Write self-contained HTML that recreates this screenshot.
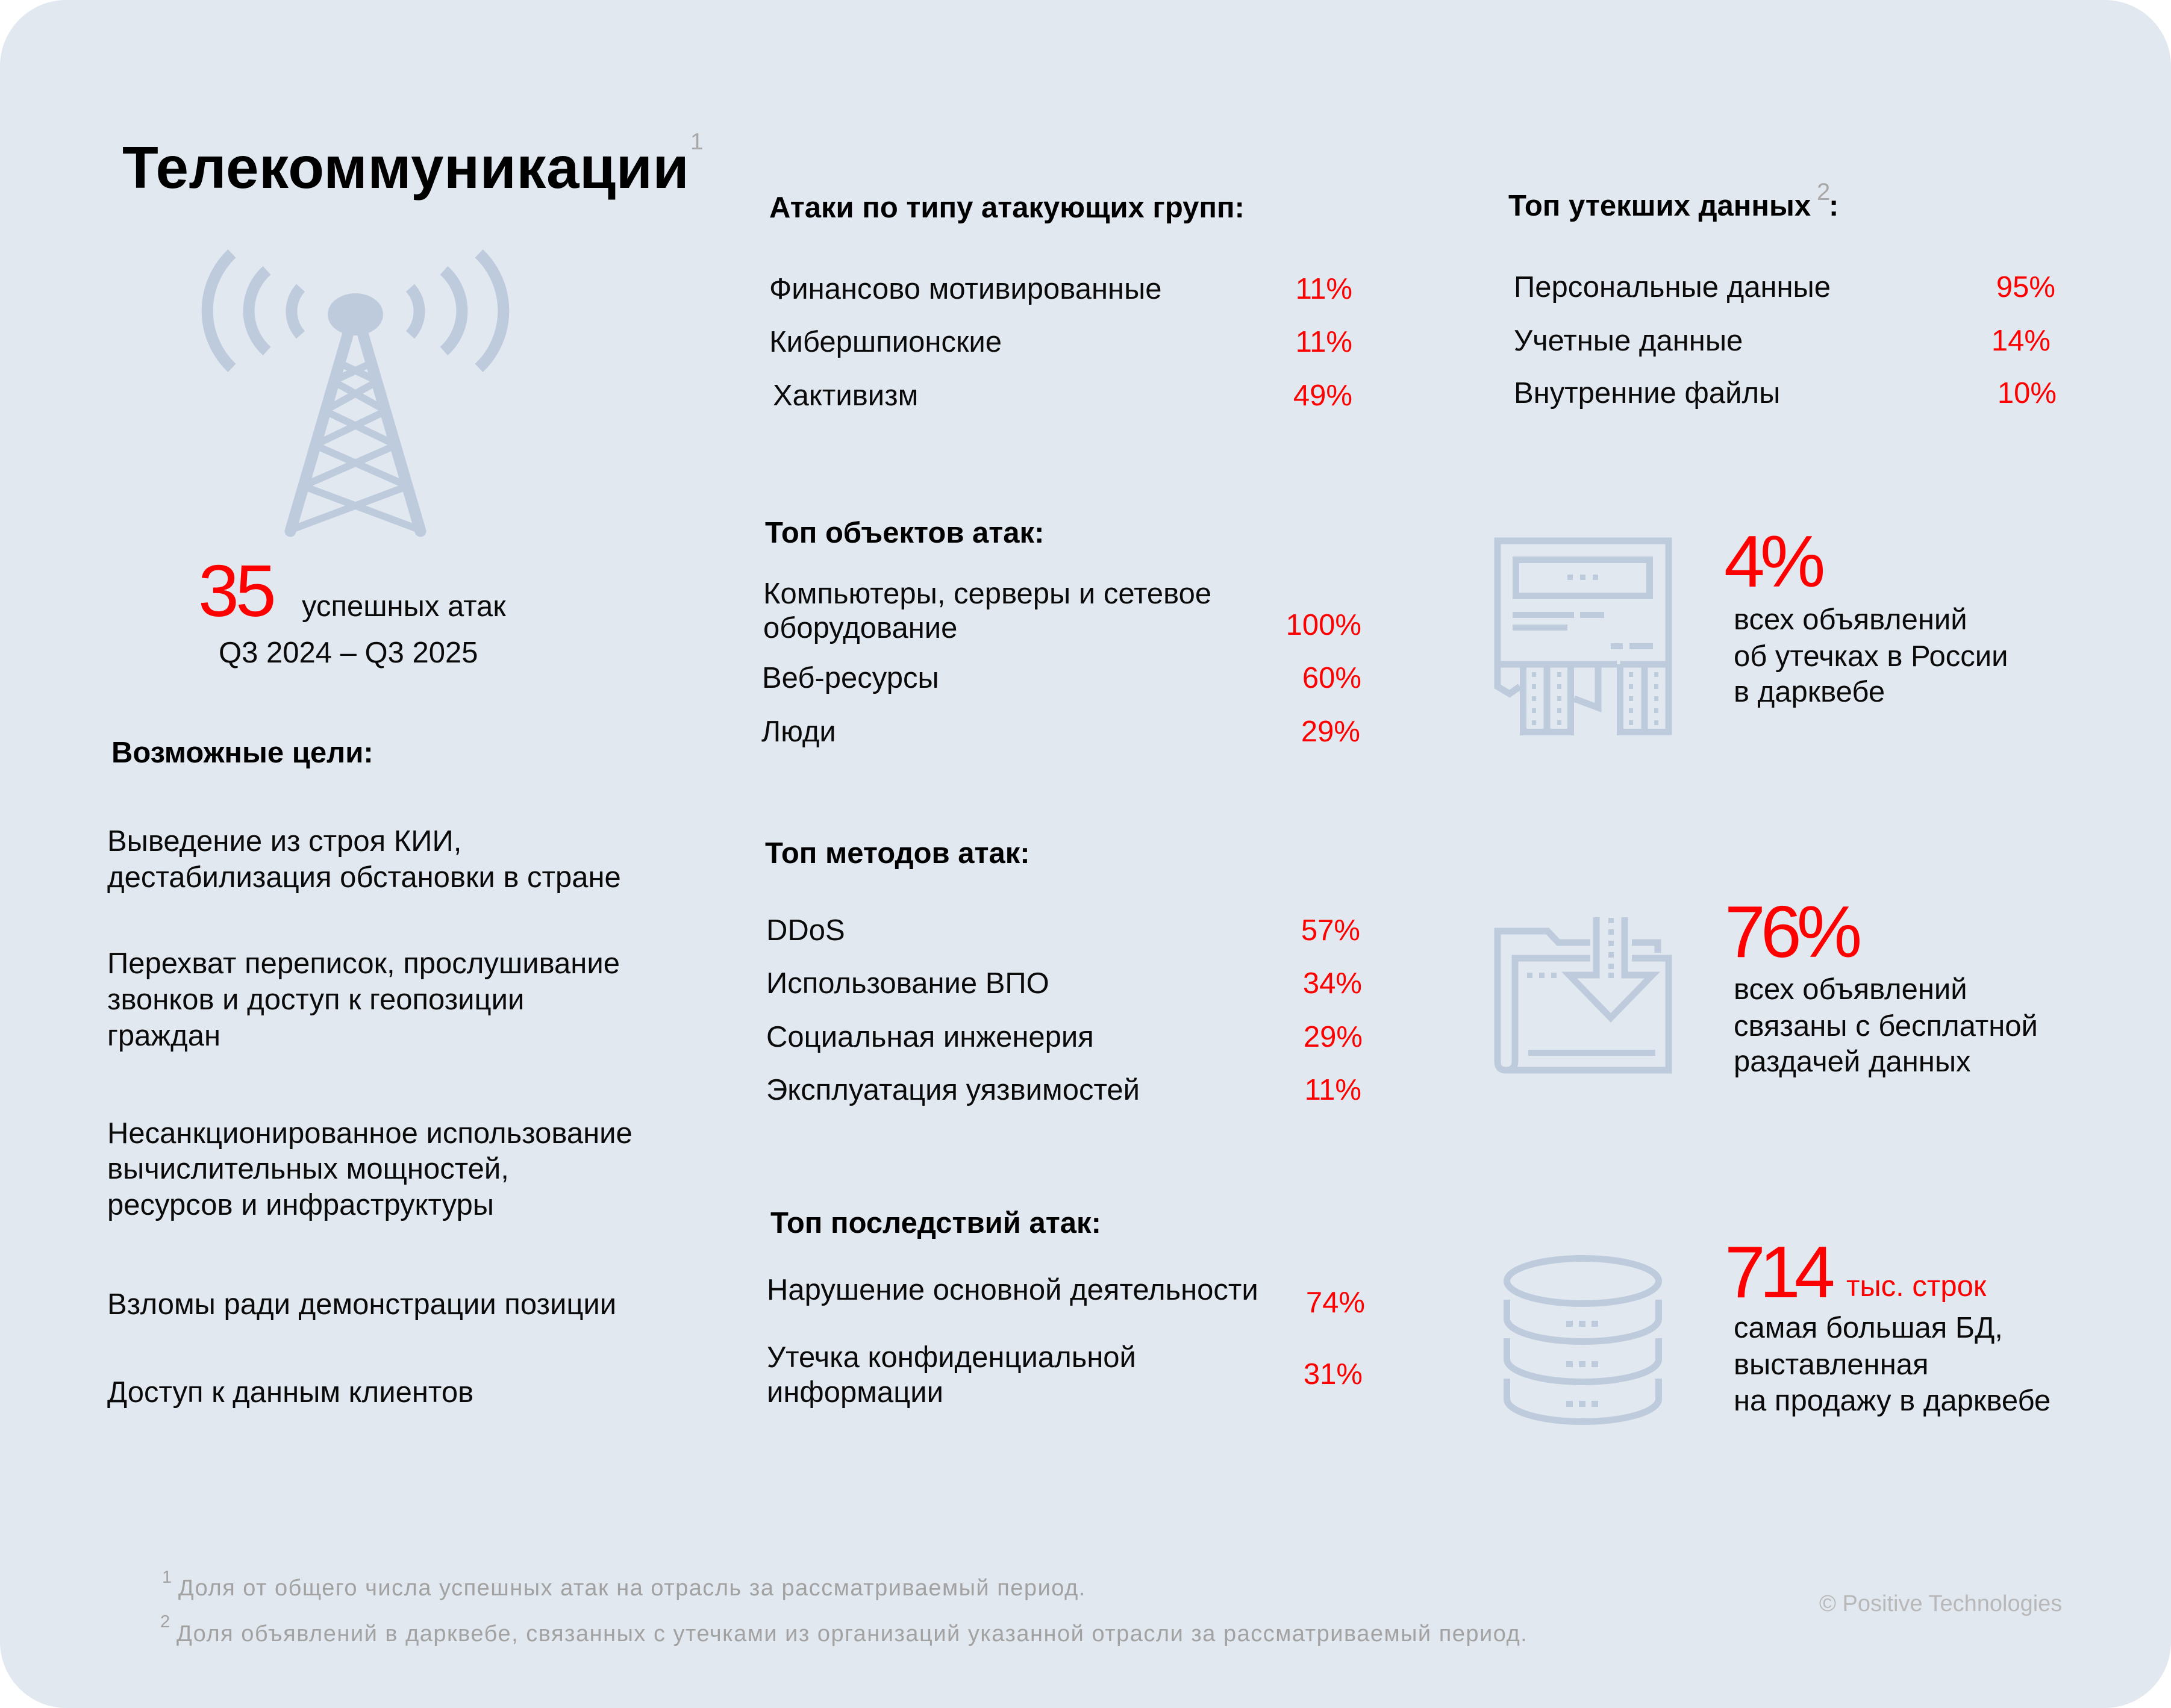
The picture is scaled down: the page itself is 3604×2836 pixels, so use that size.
<!DOCTYPE html>
<html lang="ru">
<head>
<meta charset="utf-8">
<title>Телекоммуникации</title>
<style>
  html, body { margin: 0; padding: 0; background: #ffffff; }
  body { width: 3604px; height: 2836px; overflow: hidden; }
  svg { display: block; }
  text { font-family: "Liberation Sans", Arial, sans-serif; }
  .b { font-size: 49px; fill: #0a0a0a; }
  .h { font-size: 49px; font-weight: bold; fill: #000; }
  .r { font-size: 49px; fill: #ff0000; }
  .big { font-size: 122px; fill: #ff0000; }
  .fn { font-size: 38px; fill: #a2a2a2; letter-spacing: 1.5px; }
  .sup { fill: #a8a8a8; }
</style>
</head>
<body>
<svg width="3604" height="2836" viewBox="0 0 3604 2836" xmlns="http://www.w3.org/2000/svg">
  <rect x="0" y="0" width="3604" height="2836" rx="110" ry="110" fill="#e2e8f0"/>

  <!-- ============ TOWER ICON ============ -->
  <g stroke="#bdcbdd" fill="none">
    <g stroke-width="19" stroke-linecap="butt">
      <path d="M 499 478 A 58 58 0 0 0 499 556"/>
      <path d="M 443 449 A 90 90 0 0 0 443 583"/>
      <path d="M 385 421 A 131 131 0 0 0 385 611"/>
      <path d="M 681 478 A 58 58 0 0 1 681 556"/>
      <path d="M 737 449 A 90 90 0 0 1 737 583"/>
      <path d="M 795 421 A 131 131 0 0 1 795 611"/>
    </g>
    <g stroke-width="19" stroke-linecap="round">
      <line x1="577" y1="557" x2="482" y2="882"/>
      <line x1="603" y1="557" x2="698" y2="882"/>
    </g>
    <g stroke-width="12" stroke-linecap="round">
      <line x1="482" y1="880" x2="677" y2="807"/>
      <line x1="698" y1="880" x2="503" y2="807"/>
      <line x1="503" y1="807" x2="657.6" y2="739"/>
      <line x1="677" y1="807" x2="522.4" y2="739"/>
      <line x1="522.4" y1="739" x2="641.3" y2="682"/>
      <line x1="657.6" y1="739" x2="538.7" y2="682"/>
      <line x1="538.7" y1="682" x2="627.3" y2="633"/>
      <line x1="641.3" y1="682" x2="552.7" y2="633"/>
      <line x1="552.7" y1="633" x2="618.4" y2="602"/>
      <line x1="627.3" y1="633" x2="561.6" y2="602"/>
    </g>
  </g>
  <ellipse cx="590" cy="522" rx="46" ry="35" fill="#bdcbdd"/>

  <!-- ============ SHREDDER ICON ============ -->
  <g stroke="#bdcbdd" stroke-width="11" fill="none" stroke-linejoin="miter">
    <polyline points="2486,1103 2486,898 2770,898 2770,1221"/>
    <rect x="2516.5" y="929.5" width="222" height="60"/>
    <line x1="2481" y1="1103" x2="2523" y2="1103"/>
    <line x1="2613" y1="1103" x2="2684" y2="1103"/>
    <polyline points="2486,1103 2486,1140 2506,1152 2523,1140"/>
    <rect x="2528.5" y="1103" width="79" height="112.5"/>
    <line x1="2568" y1="1103" x2="2568" y2="1215"/>
    <polyline points="2613,1103 2653,1103 2653,1175 2613,1160"/>
    <polyline points="2689.5,1103 2689.5,1215.5 2770,1215.5"/>
    <line x1="2730" y1="1103" x2="2730" y2="1215"/>
    <line x1="2689.5" y1="1103" x2="2770" y2="1103"/>
  </g>
  <g fill="#bdcbdd">
    <rect x="2602" y="954" width="9" height="9"/>
    <rect x="2623" y="954" width="9" height="9"/>
    <rect x="2644" y="954" width="9" height="9"/>
    <rect x="2511" y="1016" width="102" height="10"/>
    <rect x="2623" y="1016" width="40" height="10"/>
    <rect x="2511" y="1037" width="91" height="10"/>
    <rect x="2674" y="1068" width="20" height="10"/>
    <rect x="2705" y="1068" width="39" height="10"/>
    <rect x="2543" y="1116" width="7" height="8"/><rect x="2585" y="1116" width="7" height="8"/>
    <rect x="2543" y="1136" width="7" height="8"/><rect x="2585" y="1136" width="7" height="8"/>
    <rect x="2543" y="1156" width="7" height="8"/><rect x="2585" y="1156" width="7" height="8"/>
    <rect x="2543" y="1176" width="7" height="8"/><rect x="2585" y="1176" width="7" height="8"/>
    <rect x="2543" y="1196" width="7" height="8"/><rect x="2585" y="1196" width="7" height="8"/>
    <rect x="2704" y="1116" width="7" height="8"/><rect x="2746" y="1116" width="7" height="8"/>
    <rect x="2704" y="1136" width="7" height="8"/><rect x="2746" y="1136" width="7" height="8"/>
    <rect x="2704" y="1156" width="7" height="8"/><rect x="2746" y="1156" width="7" height="8"/>
    <rect x="2704" y="1176" width="7" height="8"/><rect x="2746" y="1176" width="7" height="8"/>
    <rect x="2704" y="1196" width="7" height="8"/><rect x="2746" y="1196" width="7" height="8"/>
  </g>

  <!-- ============ FOLDER ICON ============ -->
  <g stroke="#bdcbdd" stroke-width="11" fill="none" stroke-linejoin="miter">
    <path d="M 2500 1777 Q 2486 1777 2486 1763 L 2486 1546 L 2569 1546 L 2587 1565 L 2640 1565"/>
    <polyline points="2709,1565 2752,1565 2752,1582"/>
    <polyline points="2640,1591 2515,1591 2515,1762"/>
    <path d="M 2515 1762 Q 2515 1777 2500 1777 L 2770 1777 L 2770 1591 L 2709 1591"/>
    <polyline points="2650,1523 2650,1619 2605,1619 2674,1690 2743,1619 2697,1619 2697,1523"/>
  </g>
  <g fill="#bdcbdd">
    <rect x="2670" y="1524" width="9" height="9"/>
    <rect x="2670" y="1543" width="9" height="9"/>
    <rect x="2670" y="1562" width="9" height="9"/>
    <rect x="2670" y="1581" width="9" height="9"/>
    <rect x="2670" y="1600" width="9" height="9"/>
    <rect x="2670" y="1615" width="9" height="9"/>
    <rect x="2535" y="1615" width="9" height="9"/>
    <rect x="2555" y="1615" width="9" height="9"/>
    <rect x="2575" y="1615" width="9" height="9"/>
    <rect x="2537" y="1743" width="211" height="10"/>
  </g>

  <!-- ============ DATABASE ICON ============ -->
  <g stroke="#bdcbdd" stroke-width="11" fill="none">
    <ellipse cx="2627.5" cy="2127" rx="126" ry="37.5"/>
    <path d="M 2501.5 2158 L 2501.5 2190 A 126 37.5 0 0 0 2753.5 2190 L 2753.5 2158"/>
    <path d="M 2501.5 2222 L 2501.5 2257 A 126 37.5 0 0 0 2753.5 2257 L 2753.5 2222"/>
    <path d="M 2501.5 2289 L 2501.5 2323 A 126 37.5 0 0 0 2753.5 2323 L 2753.5 2289"/>
  </g>
  <g fill="#bdcbdd">
    <rect x="2600" y="2193" width="11" height="10"/><rect x="2621" y="2193" width="11" height="10"/><rect x="2642" y="2193" width="11" height="10"/>
    <rect x="2600" y="2260" width="11" height="10"/><rect x="2621" y="2260" width="11" height="10"/><rect x="2642" y="2260" width="11" height="10"/>
    <rect x="2600" y="2326" width="11" height="10"/><rect x="2621" y="2326" width="11" height="10"/><rect x="2642" y="2326" width="11" height="10"/>
  </g>

  <!-- ============ LEFT COLUMN TEXT ============ -->
  <text x="203" y="312" style="font-size:98px;font-weight:bold;fill:#000;letter-spacing:0.5px">Телекоммуникации</text>
  <text x="1146" y="248" class="sup" style="font-size:39px">1</text>

  <text x="329" y="1023" class="big" style="letter-spacing:-6px">35</text>
  <text x="501" y="1023" class="b">успешных атак</text>
  <text x="363" y="1100" class="b">Q3 2024 – Q3 2025</text>

  <text x="185" y="1266" class="h">Возможные цели:</text>

  <text x="178" y="1413" class="b">Выведение из строя КИИ,</text>
  <text x="178" y="1473" class="b">дестабилизация обстановки в стране</text>

  <text x="178" y="1616" class="b">Перехват переписок, прослушивание</text>
  <text x="178" y="1676" class="b">звонков и доступ к геопозиции</text>
  <text x="178" y="1736" class="b">граждан</text>

  <text x="178" y="1898" class="b">Несанкционированное использование</text>
  <text x="178" y="1957" class="b">вычислительных мощностей,</text>
  <text x="178" y="2017" class="b">ресурсов и инфраструктуры</text>

  <text x="178" y="2182" class="b">Взломы ради демонстрации позиции</text>

  <text x="178" y="2328" class="b">Доступ к данным клиентов</text>

  <!-- ============ MIDDLE COLUMN TEXT ============ -->
  <text x="1277" y="361" class="h">Атаки по типу атакующих групп:</text>
  <text x="1277" y="496" class="b">Финансово мотивированные</text>
  <text x="2245" y="496" class="r" text-anchor="end">11%</text>
  <text x="1277" y="584" class="b">Кибершпионские</text>
  <text x="2245" y="584" class="r" text-anchor="end">11%</text>
  <text x="1283" y="673" class="b">Хактивизм</text>
  <text x="2245" y="673" class="r" text-anchor="end">49%</text>

  <text x="1270" y="901" class="h">Топ объектов атак:</text>
  <text x="1267" y="1002" class="b">Компьютеры, серверы и сетевое</text>
  <text x="1267" y="1059" class="b">оборудование</text>
  <text x="2260" y="1054" class="r" text-anchor="end">100%</text>
  <text x="1265" y="1142" class="b">Веб-ресурсы</text>
  <text x="2260" y="1142" class="r" text-anchor="end">60%</text>
  <text x="1264" y="1231" class="b">Люди</text>
  <text x="2258" y="1231" class="r" text-anchor="end">29%</text>

  <text x="1270" y="1433" class="h">Топ методов атак:</text>
  <text x="1272" y="1561" class="b">DDoS</text>
  <text x="2258" y="1561" class="r" text-anchor="end">57%</text>
  <text x="1272" y="1649" class="b">Использование ВПО</text>
  <text x="2261" y="1649" class="r" text-anchor="end">34%</text>
  <text x="1272" y="1738" class="b">Социальная инженерия</text>
  <text x="2262" y="1738" class="r" text-anchor="end">29%</text>
  <text x="1272" y="1826" class="b">Эксплуатация уязвимостей</text>
  <text x="2260" y="1826" class="r" text-anchor="end">11%</text>

  <text x="1279" y="2047" class="h">Топ последствий атак:</text>
  <text x="1273" y="2158" class="b">Нарушение основной деятельности</text>
  <text x="2266" y="2179" class="r" text-anchor="end">74%</text>
  <text x="1273" y="2270" class="b">Утечка конфиденциальной</text>
  <text x="1273" y="2328" class="b">информации</text>
  <text x="2262" y="2298" class="r" text-anchor="end">31%</text>

  <!-- ============ RIGHT COLUMN TEXT ============ -->
  <text x="2504" y="358" class="h">Топ утекших данных</text>
  <text x="3016" y="332" class="sup" style="font-size:40px">2</text>
  <text x="3036" y="358" class="h">:</text>

  <text x="2513" y="493" class="b">Персональные данные</text>
  <text x="3412" y="493" class="r" text-anchor="end">95%</text>
  <text x="2513" y="582" class="b">Учетные данные</text>
  <text x="3404" y="582" class="r" text-anchor="end">14%</text>
  <text x="2513" y="669" class="b">Внутренние файлы</text>
  <text x="3414" y="669" class="r" text-anchor="end">10%</text>

  <text x="2862" y="974" class="big" style="letter-spacing:-8px">4%</text>
  <text x="2878" y="1045" class="b">всех объявлений</text>
  <text x="2878" y="1106" class="b">об утечках в России</text>
  <text x="2878" y="1165" class="b">в дарквебе</text>

  <text x="2863" y="1589" class="big" style="letter-spacing:-8px">76%</text>
  <text x="2878" y="1659" class="b">всех объявлений</text>
  <text x="2878" y="1720" class="b">связаны с бесплатной</text>
  <text x="2878" y="1779" class="b">раздачей данных</text>

  <text x="2863" y="2154" class="big" style="letter-spacing:-10px">714</text>
  <text x="3065" y="2152" class="r">тыс. строк</text>
  <text x="2878" y="2221" class="b">самая большая БД,</text>
  <text x="2878" y="2282" class="b">выставленная</text>
  <text x="2878" y="2342" class="b">на продажу в дарквебе</text>

  <!-- ============ FOOTNOTES ============ -->
  <text x="269" y="2628" class="sup" style="font-size:29px;fill:#a2a2a2">1</text>
  <text x="296" y="2649" class="fn">Доля от общего числа успешных атак на отрасль за рассматриваемый период.</text>
  <text x="266" y="2702" class="sup" style="font-size:29px;fill:#a2a2a2">2</text>
  <text x="293" y="2725" class="fn">Доля объявлений в дарквебе, связанных с утечками из организаций указанной отрасли за рассматриваемый период.</text>

  <text x="3020" y="2675" style="font-size:38px;fill:#b8b8b8">© Positive Technologies</text>
</svg>
</body>
</html>
